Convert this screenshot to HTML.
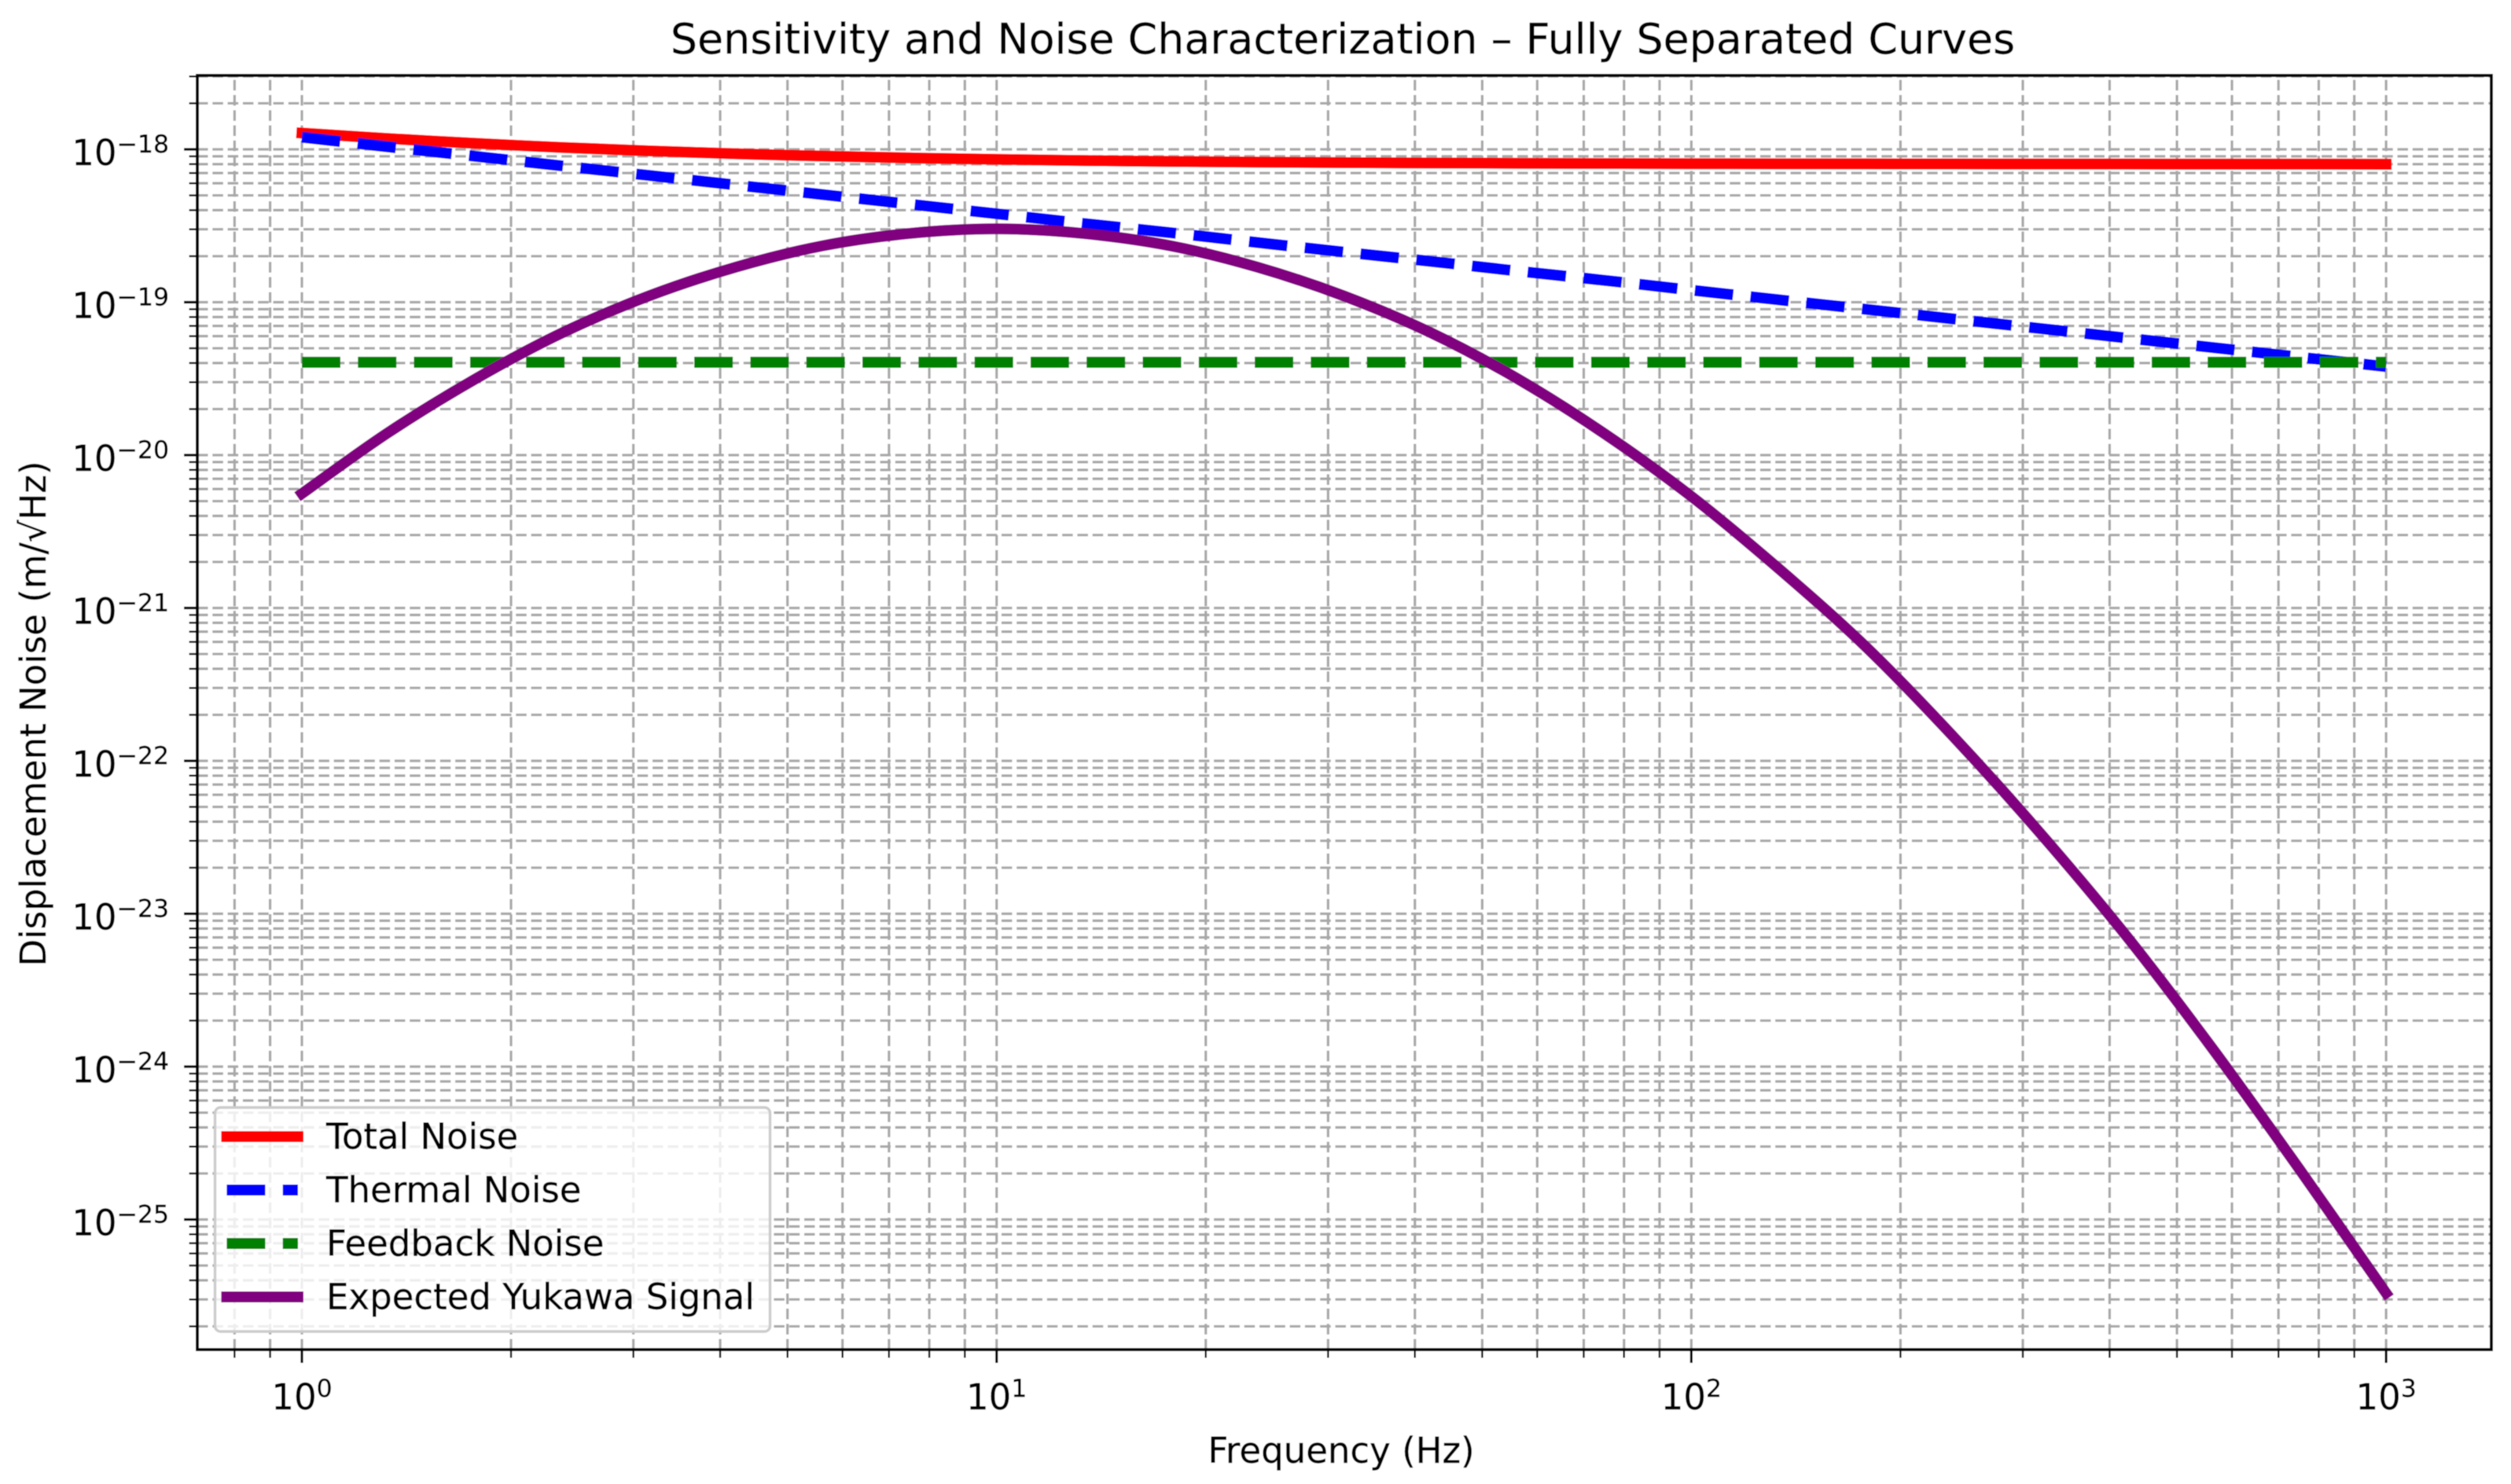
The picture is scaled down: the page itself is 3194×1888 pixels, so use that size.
<!DOCTYPE html>
<html lang="en">
<head>
<meta charset="utf-8">
<title>Sensitivity and Noise Characterization</title>
<style>
html,body{margin:0;padding:0;background:#fff;}
svg{display:block;font-family:"DejaVu Sans","Liberation Sans",sans-serif;}
text{fill:#000;stroke:#000;stroke-width:0.4;}
</style>
</head>
<body>
<svg id="chart" xmlns="http://www.w3.org/2000/svg" width="3194" height="1888" viewBox="0 0 3194 1888">
  <defs>
    <filter id="soft" x="0" y="0" width="100%" height="100%"><feGaussianBlur stdDeviation="0.6"/></filter>
    <clipPath id="plot-clip"><rect x="251" y="96" width="2918" height="1621"/></clipPath>
  </defs>
  <g filter="url(#soft)">
    <rect x="0" y="0" width="3194" height="1888" fill="#fff"/>
    <g id="grid"></g>
    <g id="series" clip-path="url(#plot-clip)"></g>
    <g id="ticks"></g>
    <rect x="251" y="96" width="2918" height="1621" fill="none" stroke="#000" stroke-width="4"/>

    <g>
      <rect x="273.5" y="1409" width="706" height="285" rx="7" ry="7" fill="#fff" fill-opacity="0.8" stroke="#cccccc" stroke-width="3.4"/>
      <line x1="288.4" x2="379" y1="1446" y2="1446" stroke="#ff0000" stroke-width="14" stroke-linecap="square"/>
      <text x="415" y="1461.7" font-size="45">Total Noise</text>
      <line x1="288.4" x2="379" y1="1514" y2="1514" stroke="#0000ff" stroke-width="14" stroke-dasharray="49 22.3"/>
      <text x="415" y="1529.7" font-size="45">Thermal Noise</text>
      <line x1="288.4" x2="379" y1="1582" y2="1582" stroke="#008000" stroke-width="14" stroke-dasharray="49 22.3"/>
      <text x="415" y="1597.7" font-size="45">Feedback Noise</text>
      <line x1="288.4" x2="379" y1="1650" y2="1650" stroke="#800080" stroke-width="14" stroke-linecap="square"/>
      <text x="415" y="1665.7" font-size="45">Expected Yukawa Signal</text>
    </g>

    <text x="1708" y="68" font-size="53.8" text-anchor="middle">Sensitivity and Noise Characterization – Fully Separated Curves</text>
    <text x="1706" y="1861" font-size="45" text-anchor="middle">Frequency (Hz)</text>
    <text transform="translate(58 908) rotate(-90)" x="0" y="0" font-size="45" text-anchor="middle">Displacement Noise (m/√Hz)</text>
  </g>
</svg>
<script>
// Chart data
const frequencies = [1, 1.33, 1.78, 2.37, 3.16, 4.22, 5.62, 7.5, 10, 13.3, 17.8, 23.7, 31.6, 42.2, 56.2, 75, 100, 133, 178, 237, 316, 422, 562, 750, 1000];
const totalNoise = [1.278e-18, 1.177e-18, 1.095e-18, 1.029e-18, 9.77e-19, 9.36e-19, 9.04e-19, 8.79e-19, 8.6e-19, 8.45e-19, 8.34e-19, 8.25e-19, 8.19e-19, 8.14e-19, 8.11e-19, 8.08e-19, 8.06e-19, 8.05e-19, 8.04e-19, 8.03e-19, 8.02e-19, 8.02e-19, 8.01e-19, 8.01e-19, 8.0e-19];
const thermalNoise = [1.2e-18, 1.039e-18, 9.0e-19, 7.79e-19, 6.75e-19, 5.84e-19, 5.06e-19, 4.38e-19, 3.79e-19, 3.28e-19, 2.85e-19, 2.46e-19, 2.13e-19, 1.85e-19, 1.6e-19, 1.39e-19, 1.2e-19, 1.04e-19, 9.0e-20, 7.8e-20, 6.75e-20, 5.84e-20, 5.06e-20, 4.38e-20, 3.79e-20];
const feedbackNoise = [4.05e-20, 4.05e-20, 4.05e-20, 4.05e-20, 4.05e-20, 4.05e-20, 4.05e-20, 4.05e-20, 4.05e-20, 4.05e-20, 4.05e-20, 4.05e-20, 4.05e-20, 4.05e-20, 4.05e-20, 4.05e-20, 4.05e-20, 4.05e-20, 4.05e-20, 4.05e-20, 4.05e-20, 4.05e-20, 4.05e-20, 4.05e-20, 4.05e-20];
const yukawaSignal = [5.6e-21, 1.4e-20, 3.16e-20, 6.31e-20, 1.1e-19, 1.7e-19, 2.34e-19, 2.82e-19, 3.02e-19, 2.82e-19, 2.34e-19, 1.7e-19, 1.1e-19, 6.31e-20, 3.16e-20, 1.38e-20, 5.37e-21, 1.84e-21, 5.62e-22, 1.48e-22, 3.47e-23, 7.24e-24, 1.32e-24, 2.14e-25, 3.3e-26];
const xTickExponents = [0, 1, 2, 3];
const yTickExponents = [-25, -24, -23, -22, -21, -20, -19, -18];
const xMinorDecades = [-1, 0, 1, 2];
const yMinorDecades = [-26, -25, -24, -23, -22, -21, -20, -19, -18];
const minorMultipliers = [2, 3, 4, 5, 6, 7, 8, 9];

// Axis geometry
const plotLeft = 251, plotRight = 3169, plotTop = 96, plotBottom = 1717;
const xAtOne = 384, xPerDecade = 883.7;
const yAtMinus18 = 190, yPerDecade = 194.5;
const xScale = function (f) { return xAtOne + Math.log10(f) * xPerDecade; };
const yScale = function (v) { return yAtMinus18 - (Math.log10(v) + 18) * yPerDecade; };
const svgNS = 'http://www.w3.org/2000/svg';
const gridGroup = document.getElementById('grid');
const tickGroup = document.getElementById('ticks');
const seriesGroup = document.getElementById('series');

function makeLine(parent, x1, y1, x2, y2, stroke, width, dash) {
  const el = document.createElementNS(svgNS, 'line');
  el.setAttribute('x1', x1);
  el.setAttribute('y1', y1);
  el.setAttribute('x2', x2);
  el.setAttribute('y2', y2);
  el.setAttribute('stroke', stroke);
  el.setAttribute('stroke-width', width);
  if (dash) el.setAttribute('stroke-dasharray', dash);
  parent.appendChild(el);
  return el;
}

function drawVerticalTick(f, isMajor) {
  const x = xScale(f);
  if (x < plotLeft || x > plotRight) return;
  const grid = makeLine(gridGroup, x, plotBottom, x, plotTop, '#a8a8a8', 3.2, '13.5 5.8');
  
  
  const tick = makeLine(tickGroup, x, plotBottom, x, plotBottom + (isMajor ? 17 : 10.5), '#000', isMajor ? 3.2 : 2.4);
  
  
}

function drawHorizontalTick(v, isMajor) {
  const y = yScale(v);
  if (y < plotTop || y > plotBottom) return;
  const grid = makeLine(gridGroup, plotLeft, y, plotRight, y, '#a8a8a8', 3.2, '13.5 5.8');
  
  
  const tick = makeLine(tickGroup, plotLeft - (isMajor ? 17 : 10.5), y, plotLeft, y, '#000', isMajor ? 3.2 : 2.4);
  
  
}

function makeTickLabel(x, y, exponentText, anchor) {
  const t = document.createElementNS(svgNS, 'text');
  t.setAttribute('x', x);
  t.setAttribute('y', y);
  t.setAttribute('font-size', '45');
  t.setAttribute('text-anchor', anchor);
  t.appendChild(document.createTextNode('10'));
  const sup = document.createElementNS(svgNS, 'tspan');
  sup.setAttribute('dy', '-16');
  sup.setAttribute('font-size', '31.5');
  sup.textContent = exponentText;
  t.appendChild(sup);
  tickGroup.appendChild(t);
  return t;
}

xMinorDecades.forEach(function (d) {
  minorMultipliers.forEach(function (m) { drawVerticalTick(m * Math.pow(10, d), false); });
});
yMinorDecades.forEach(function (d) {
  minorMultipliers.forEach(function (m) { drawHorizontalTick(m * Math.pow(10, d), false); });
});
xTickExponents.forEach(function (e) {
  drawVerticalTick(Math.pow(10, e), true);
  const label = makeTickLabel(xScale(Math.pow(10, e)), 1793, String(e), 'middle');
  
  
});
yTickExponents.forEach(function (e) {
  drawHorizontalTick(Math.pow(10, e), true);
  const label = makeTickLabel(215, yScale(Math.pow(10, e)) + 20, '\u2212' + Math.abs(e), 'end');
  
  
});

// Smooth path through the data points (Catmull-Rom in pixel space)
function curvePath(values) {
  const pts = frequencies.map(function (f, i) { return [xScale(f), yScale(values[i])]; });
  let d = 'M' + pts[0][0].toFixed(2) + ' ' + pts[0][1].toFixed(2);
  for (let i = 0; i < pts.length - 1; i++) {
    const p0 = pts[Math.max(0, i - 1)], p1 = pts[i], p2 = pts[i + 1], p3 = pts[Math.min(pts.length - 1, i + 2)];
    const c1x = p1[0] + (p2[0] - p0[0]) / 6, c1y = p1[1] + (p2[1] - p0[1]) / 6;
    const c2x = p2[0] - (p3[0] - p1[0]) / 6, c2y = p2[1] - (p3[1] - p1[1]) / 6;
    d += 'C' + c1x.toFixed(2) + ' ' + c1y.toFixed(2) + ' ' + c2x.toFixed(2) + ' ' + c2y.toFixed(2) + ' ' + p2[0].toFixed(2) + ' ' + p2[1].toFixed(2);
  }
  return d;
}

function drawSeries(values, color, dash) {
  const p = document.createElementNS(svgNS, 'path');
  p.setAttribute('d', curvePath(values));
  p.setAttribute('fill', 'none');
  p.setAttribute('stroke', color);
  p.setAttribute('stroke-width', '14');
  p.setAttribute('stroke-linejoin', 'round');
  if (dash) {
    p.setAttribute('stroke-dasharray', dash);
    p.setAttribute('stroke-linecap', 'butt');
  } else {
    p.setAttribute('stroke-linecap', 'square');
  }
  seriesGroup.appendChild(p);
  return p;
}

const totalLine = drawSeries(totalNoise, '#ff0000', null);


const thermalLine = drawSeries(thermalNoise, '#0000ff', '49 22.3');


const feedbackLine = drawSeries(feedbackNoise, '#008000', '49 22.3');


const yukawaLine = drawSeries(yukawaSignal, '#800080', null);


</script>
</body>
</html>
